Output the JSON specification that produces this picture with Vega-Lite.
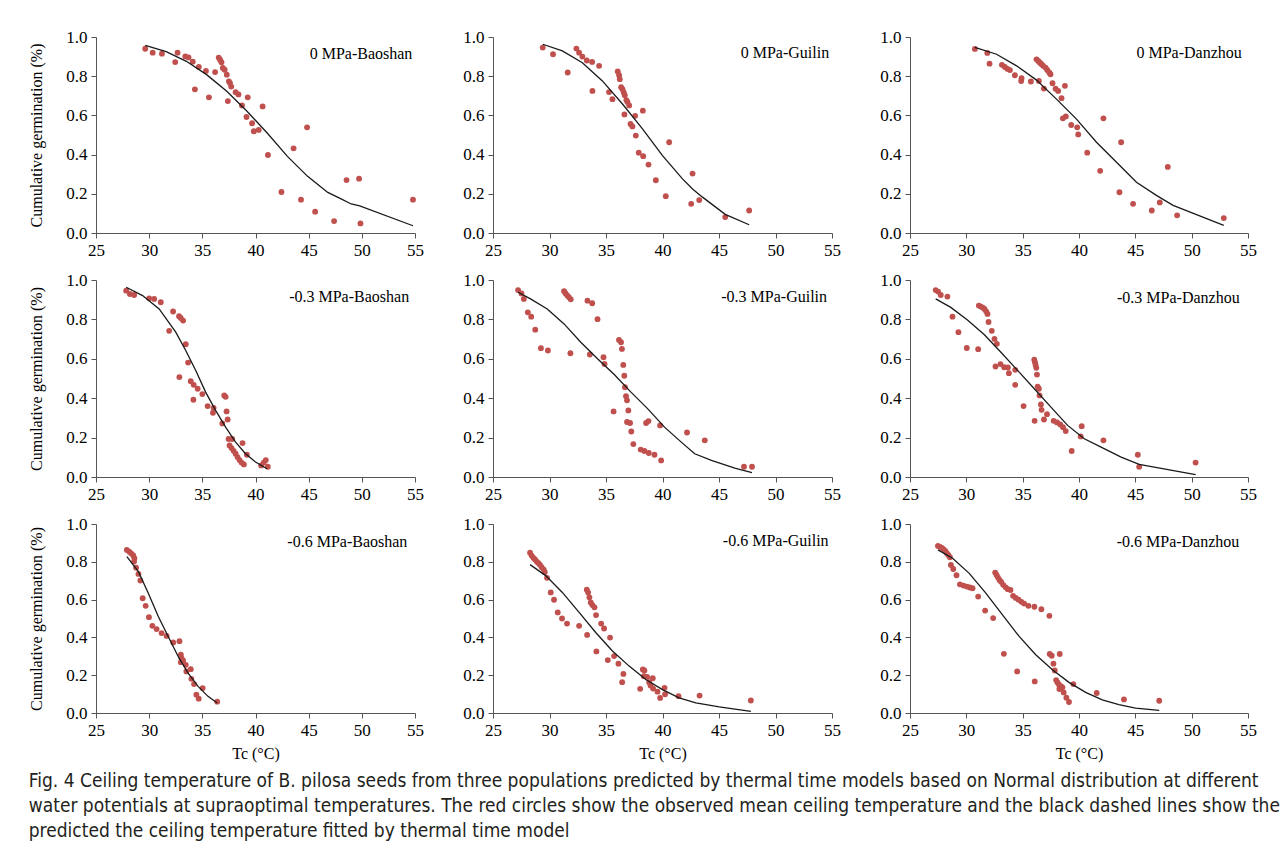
{
"$schema": "https://vega.github.io/schema/vega-lite/v6.json",
"padding": {"left": 28, "top": 28, "right": 5, "bottom": 5},
"background": "#ffffff",
"config": {
  "font": "Liberation Serif",
  "view": {"stroke": null},
  "axis": {"grid": false, "domainColor": "#555555", "domainWidth": 1, "tickColor": "#555555", "tickSize": 5, "labelFont": "Liberation Serif", "labelFontSize": 17, "labelColor": "#000000", "labelPadding": 4, "titleFont": "Liberation Serif", "titleFontSize": 16, "titleFontWeight": "normal", "titleColor": "#000000"},
  "axisX": {"values": [25, 30, 35, 40, 45, 50, 55], "labelFlush": false, "titlePadding": 7},
  "axisY": {"values": [0, 0.2, 0.4, 0.6, 0.8, 1.0], "format": ".1f", "titlePadding": 21},
  "text": {"font": "Liberation Serif", "fontSize": 16, "color": "#000000"}
},
"title": {"text": ["Fig. 4  Ceiling temperature of B. pilosa seeds from three populations predicted by thermal time models based on Normal distribution at different", "water potentials at supraoptimal temperatures. The red circles show the observed mean ceiling temperature and the black dashed lines show the", "predicted the ceiling temperature fitted by thermal time model"], "orient": "bottom", "anchor": "start", "frame": "bounds", "font": "DejaVu Sans Condensed, Liberation Sans Narrow, sans-serif", "fontSize": 19, "fontWeight": "normal", "lineHeight": 25, "offset": 11, "color": "#231f20"},
"datasets": {
"pts": [
{"p":"b0","t":29.63,"g":0.94},{"p":"b0","t":30.33,"g":0.92},{"p":"b0","t":31.2,"g":0.915},{"p":"b0","t":32.45,"g":0.872},{"p":"b0","t":32.67,"g":0.92},{"p":"b0","t":33.4,"g":0.901},{"p":"b0","t":33.7,"g":0.896},{"p":"b0","t":34.1,"g":0.874},{"p":"b0","t":34.3,"g":0.733},{"p":"b0","t":34.67,"g":0.847},{"p":"b0","t":35.34,"g":0.827},{"p":"b0","t":35.62,"g":0.692},{"p":"b0","t":36.2,"g":0.821},{"p":"b0","t":36.54,"g":0.895},{"p":"b0","t":36.67,"g":0.884},{"p":"b0","t":36.8,"g":0.871},{"p":"b0","t":36.93,"g":0.842},{"p":"b0","t":37.1,"g":0.833},{"p":"b0","t":37.3,"g":0.808},{"p":"b0","t":37.4,"g":0.673},{"p":"b0","t":37.5,"g":0.774},{"p":"b0","t":37.6,"g":0.765},{"p":"b0","t":37.72,"g":0.747},{"p":"b0","t":38.13,"g":0.718},{"p":"b0","t":38.4,"g":0.707},{"p":"b0","t":38.73,"g":0.651},{"p":"b0","t":39.27,"g":0.692},{"p":"b0","t":39.15,"g":0.592},{"p":"b0","t":39.68,"g":0.56},{"p":"b0","t":39.84,"g":0.519},{"p":"b0","t":40.3,"g":0.526},{"p":"b0","t":40.67,"g":0.646},{"p":"b0","t":41.17,"g":0.398},{"p":"b0","t":42.44,"g":0.209},{"p":"b0","t":43.58,"g":0.432},{"p":"b0","t":44.28,"g":0.17},{"p":"b0","t":44.85,"g":0.539},{"p":"b0","t":45.61,"g":0.109},{"p":"b0","t":47.39,"g":0.061},{"p":"b0","t":48.56,"g":0.27},{"p":"b0","t":49.74,"g":0.277},{"p":"b0","t":49.87,"g":0.049},{"p":"b0","t":54.81,"g":0.17},
{"p":"g0","t":29.4,"g":0.946},{"p":"g0","t":30.31,"g":0.912},{"p":"g0","t":31.61,"g":0.819},{"p":"g0","t":32.38,"g":0.941},{"p":"g0","t":32.62,"g":0.92},{"p":"g0","t":32.91,"g":0.9},{"p":"g0","t":33.3,"g":0.88},{"p":"g0","t":33.77,"g":0.873},{"p":"g0","t":33.8,"g":0.725},{"p":"g0","t":34.39,"g":0.853},{"p":"g0","t":35.27,"g":0.719},{"p":"g0","t":35.57,"g":0.683},{"p":"g0","t":36.04,"g":0.824},{"p":"g0","t":36.16,"g":0.805},{"p":"g0","t":36.22,"g":0.785},{"p":"g0","t":36.34,"g":0.744},{"p":"g0","t":36.46,"g":0.734},{"p":"g0","t":36.57,"g":0.717},{"p":"g0","t":36.66,"g":0.703},{"p":"g0","t":36.63,"g":0.605},{"p":"g0","t":36.8,"g":0.678},{"p":"g0","t":36.9,"g":0.669},{"p":"g0","t":37.05,"g":0.651},{"p":"g0","t":37.17,"g":0.556},{"p":"g0","t":37.34,"g":0.544},{"p":"g0","t":37.58,"g":0.598},{"p":"g0","t":37.64,"g":0.497},{"p":"g0","t":37.9,"g":0.41},{"p":"g0","t":38.26,"g":0.624},{"p":"g0","t":38.29,"g":0.392},{"p":"g0","t":38.76,"g":0.349},{"p":"g0","t":39.41,"g":0.269},{"p":"g0","t":40.29,"g":0.188},{"p":"g0","t":40.59,"g":0.463},{"p":"g0","t":42.54,"g":0.149},{"p":"g0","t":42.66,"g":0.303},{"p":"g0","t":43.25,"g":0.168},{"p":"g0","t":45.55,"g":0.081},{"p":"g0","t":47.67,"g":0.115},
{"p":"d0","t":30.76,"g":0.939},{"p":"d0","t":31.86,"g":0.919},{"p":"d0","t":32.06,"g":0.864},{"p":"d0","t":33.16,"g":0.858},{"p":"d0","t":33.42,"g":0.847},{"p":"d0","t":33.66,"g":0.837},{"p":"d0","t":33.87,"g":0.831},{"p":"d0","t":34.31,"g":0.805},{"p":"d0","t":34.9,"g":0.79},{"p":"d0","t":34.87,"g":0.775},{"p":"d0","t":35.73,"g":0.773},{"p":"d0","t":36.23,"g":0.886},{"p":"d0","t":36.38,"g":0.878},{"p":"d0","t":36.53,"g":0.869},{"p":"d0","t":36.68,"g":0.861},{"p":"d0","t":36.82,"g":0.853},{"p":"d0","t":37.03,"g":0.844},{"p":"d0","t":37.18,"g":0.832},{"p":"d0","t":37.36,"g":0.819},{"p":"d0","t":37.47,"g":0.81},{"p":"d0","t":36.44,"g":0.776},{"p":"d0","t":36.88,"g":0.737},{"p":"d0","t":37.65,"g":0.764},{"p":"d0","t":37.92,"g":0.736},{"p":"d0","t":38.15,"g":0.725},{"p":"d0","t":38.45,"g":0.688},{"p":"d0","t":38.57,"g":0.585},{"p":"d0","t":38.75,"g":0.751},{"p":"d0","t":38.83,"g":0.595},{"p":"d0","t":39.31,"g":0.551},{"p":"d0","t":39.84,"g":0.539},{"p":"d0","t":39.93,"g":0.503},{"p":"d0","t":40.73,"g":0.41},{"p":"d0","t":41.88,"g":0.317},{"p":"d0","t":42.17,"g":0.585},{"p":"d0","t":43.59,"g":0.208},{"p":"d0","t":43.74,"g":0.463},{"p":"d0","t":44.8,"g":0.149},{"p":"d0","t":46.46,"g":0.115},{"p":"d0","t":47.17,"g":0.156},{"p":"d0","t":47.88,"g":0.337},{"p":"d0","t":48.71,"g":0.09},{"p":"d0","t":52.85,"g":0.076},
{"p":"b3","t":27.84,"g":0.946},{"p":"b3","t":28.19,"g":0.929},{"p":"b3","t":28.59,"g":0.924},{"p":"b3","t":30.0,"g":0.907},{"p":"b3","t":30.47,"g":0.904},{"p":"b3","t":31.09,"g":0.887},{"p":"b3","t":32.25,"g":0.84},{"p":"b3","t":31.88,"g":0.742},{"p":"b3","t":32.81,"g":0.816},{"p":"b3","t":32.97,"g":0.807},{"p":"b3","t":33.19,"g":0.794},{"p":"b3","t":33.44,"g":0.674},{"p":"b3","t":32.84,"g":0.507},{"p":"b3","t":33.66,"g":0.581},{"p":"b3","t":33.91,"g":0.486},{"p":"b3","t":34.19,"g":0.468},{"p":"b3","t":34.16,"g":0.392},{"p":"b3","t":34.56,"g":0.448},{"p":"b3","t":35.0,"g":0.421},{"p":"b3","t":35.5,"g":0.36},{"p":"b3","t":36.06,"g":0.351},{"p":"b3","t":36.0,"g":0.326},{"p":"b3","t":36.88,"g":0.272},{"p":"b3","t":37.06,"g":0.414},{"p":"b3","t":37.19,"g":0.407},{"p":"b3","t":37.28,"g":0.333},{"p":"b3","t":37.38,"g":0.292},{"p":"b3","t":37.47,"g":0.193},{"p":"b3","t":37.81,"g":0.193},{"p":"b3","t":37.56,"g":0.16},{"p":"b3","t":37.75,"g":0.147},{"p":"b3","t":37.94,"g":0.133},{"p":"b3","t":38.13,"g":0.118},{"p":"b3","t":38.31,"g":0.101},{"p":"b3","t":38.5,"g":0.086},{"p":"b3","t":38.69,"g":0.073},{"p":"b3","t":38.91,"g":0.064},{"p":"b3","t":38.78,"g":0.172},{"p":"b3","t":39.19,"g":0.113},{"p":"b3","t":40.53,"g":0.059},{"p":"b3","t":40.78,"g":0.073},{"p":"b3","t":40.97,"g":0.086},{"p":"b3","t":41.16,"g":0.052},
{"p":"g3","t":27.22,"g":0.949},{"p":"g3","t":27.52,"g":0.932},{"p":"g3","t":27.73,"g":0.904},{"p":"g3","t":28.08,"g":0.836},{"p":"g3","t":28.38,"g":0.814},{"p":"g3","t":28.74,"g":0.748},{"p":"g3","t":29.24,"g":0.654},{"p":"g3","t":29.86,"g":0.642},{"p":"g3","t":31.29,"g":0.943},{"p":"g3","t":31.43,"g":0.932},{"p":"g3","t":31.58,"g":0.921},{"p":"g3","t":31.73,"g":0.912},{"p":"g3","t":31.88,"g":0.902},{"p":"g3","t":31.85,"g":0.628},{"p":"g3","t":33.36,"g":0.895},{"p":"g3","t":33.78,"g":0.882},{"p":"g3","t":33.57,"g":0.622},{"p":"g3","t":34.25,"g":0.801},{"p":"g3","t":34.78,"g":0.608},{"p":"g3","t":34.87,"g":0.574},{"p":"g3","t":35.67,"g":0.333},{"p":"g3","t":36.15,"g":0.696},{"p":"g3","t":36.33,"g":0.684},{"p":"g3","t":36.41,"g":0.65},{"p":"g3","t":36.53,"g":0.569},{"p":"g3","t":36.62,"g":0.514},{"p":"g3","t":36.68,"g":0.456},{"p":"g3","t":36.77,"g":0.41},{"p":"g3","t":36.86,"g":0.389},{"p":"g3","t":36.98,"g":0.338},{"p":"g3","t":36.86,"g":0.279},{"p":"g3","t":37.13,"g":0.274},{"p":"g3","t":37.24,"g":0.231},{"p":"g3","t":37.42,"g":0.167},{"p":"g3","t":38.07,"g":0.139},{"p":"g3","t":38.4,"g":0.132},{"p":"g3","t":38.79,"g":0.122},{"p":"g3","t":39.29,"g":0.113},{"p":"g3","t":39.88,"g":0.084},{"p":"g3","t":38.55,"g":0.274},{"p":"g3","t":38.76,"g":0.284},{"p":"g3","t":39.79,"g":0.262},{"p":"g3","t":42.17,"g":0.226},{"p":"g3","t":43.74,"g":0.186},{"p":"g3","t":47.21,"g":0.052},{"p":"g3","t":47.92,"g":0.052},
{"p":"d3","t":27.28,"g":0.949},{"p":"d3","t":27.49,"g":0.941},{"p":"d3","t":27.73,"g":0.924},{"p":"d3","t":28.32,"g":0.916},{"p":"d3","t":28.77,"g":0.814},{"p":"d3","t":29.3,"g":0.735},{"p":"d3","t":30.04,"g":0.655},{"p":"d3","t":31.05,"g":0.649},{"p":"d3","t":31.11,"g":0.87},{"p":"d3","t":31.29,"g":0.865},{"p":"d3","t":31.46,"g":0.86},{"p":"d3","t":31.61,"g":0.853},{"p":"d3","t":31.76,"g":0.841},{"p":"d3","t":31.88,"g":0.828},{"p":"d3","t":31.97,"g":0.787},{"p":"d3","t":32.26,"g":0.742},{"p":"d3","t":32.5,"g":0.701},{"p":"d3","t":32.71,"g":0.676},{"p":"d3","t":32.59,"g":0.561},{"p":"d3","t":33.03,"g":0.573},{"p":"d3","t":33.36,"g":0.557},{"p":"d3","t":33.69,"g":0.556},{"p":"d3","t":33.78,"g":0.527},{"p":"d3","t":34.34,"g":0.468},{"p":"d3","t":34.34,"g":0.544},{"p":"d3","t":35.08,"g":0.36},{"p":"d3","t":36.03,"g":0.595},{"p":"d3","t":36.09,"g":0.583},{"p":"d3","t":36.15,"g":0.569},{"p":"d3","t":36.21,"g":0.554},{"p":"d3","t":36.27,"g":0.52},{"p":"d3","t":36.33,"g":0.459},{"p":"d3","t":36.44,"g":0.448},{"p":"d3","t":36.5,"g":0.414},{"p":"d3","t":36.62,"g":0.368},{"p":"d3","t":36.68,"g":0.341},{"p":"d3","t":36.06,"g":0.285},{"p":"d3","t":36.89,"g":0.292},{"p":"d3","t":37.16,"g":0.319},{"p":"d3","t":37.75,"g":0.285},{"p":"d3","t":38.05,"g":0.277},{"p":"d3","t":38.34,"g":0.267},{"p":"d3","t":38.58,"g":0.253},{"p":"d3","t":38.82,"g":0.233},{"p":"d3","t":39.35,"g":0.132},{"p":"d3","t":40.15,"g":0.206},{"p":"d3","t":40.24,"g":0.258},{"p":"d3","t":42.17,"g":0.186},{"p":"d3","t":45.22,"g":0.113},{"p":"d3","t":45.34,"g":0.052},{"p":"d3","t":50.35,"g":0.073},
{"p":"b6","t":27.9,"g":0.863},{"p":"b6","t":28.12,"g":0.854},{"p":"b6","t":28.3,"g":0.845},{"p":"b6","t":28.49,"g":0.835},{"p":"b6","t":28.61,"g":0.819},{"p":"b6","t":28.58,"g":0.801},{"p":"b6","t":28.77,"g":0.769},{"p":"b6","t":28.99,"g":0.736},{"p":"b6","t":29.17,"g":0.701},{"p":"b6","t":29.39,"g":0.607},{"p":"b6","t":29.67,"g":0.567},{"p":"b6","t":29.98,"g":0.507},{"p":"b6","t":30.3,"g":0.461},{"p":"b6","t":30.7,"g":0.444},{"p":"b6","t":31.17,"g":0.423},{"p":"b6","t":31.64,"g":0.408},{"p":"b6","t":32.26,"g":0.373},{"p":"b6","t":32.85,"g":0.38},{"p":"b6","t":32.98,"g":0.308},{"p":"b6","t":33.04,"g":0.29},{"p":"b6","t":32.98,"g":0.269},{"p":"b6","t":33.19,"g":0.278},{"p":"b6","t":33.44,"g":0.255},{"p":"b6","t":33.5,"g":0.22},{"p":"b6","t":33.91,"g":0.232},{"p":"b6","t":33.97,"g":0.181},{"p":"b6","t":34.22,"g":0.153},{"p":"b6","t":34.44,"g":0.097},{"p":"b6","t":34.66,"g":0.076},{"p":"b6","t":35.03,"g":0.132},{"p":"b6","t":36.4,"g":0.06},
{"p":"g6","t":28.28,"g":0.848},{"p":"g6","t":28.42,"g":0.833},{"p":"g6","t":28.57,"g":0.821},{"p":"g6","t":28.72,"g":0.812},{"p":"g6","t":28.87,"g":0.801},{"p":"g6","t":29.02,"g":0.793},{"p":"g6","t":29.16,"g":0.784},{"p":"g6","t":29.31,"g":0.771},{"p":"g6","t":29.49,"g":0.759},{"p":"g6","t":29.58,"g":0.745},{"p":"g6","t":29.78,"g":0.715},{"p":"g6","t":30.11,"g":0.638},{"p":"g6","t":30.4,"g":0.599},{"p":"g6","t":30.73,"g":0.532},{"p":"g6","t":31.11,"g":0.5},{"p":"g6","t":31.55,"g":0.473},{"p":"g6","t":32.62,"g":0.461},{"p":"g6","t":33.33,"g":0.413},{"p":"g6","t":33.3,"g":0.652},{"p":"g6","t":33.42,"g":0.638},{"p":"g6","t":33.53,"g":0.612},{"p":"g6","t":33.65,"g":0.585},{"p":"g6","t":33.8,"g":0.571},{"p":"g6","t":33.98,"g":0.559},{"p":"g6","t":34.12,"g":0.518},{"p":"g6","t":34.15,"g":0.326},{"p":"g6","t":34.57,"g":0.473},{"p":"g6","t":34.83,"g":0.447},{"p":"g6","t":35.16,"g":0.28},{"p":"g6","t":35.36,"g":0.399},{"p":"g6","t":35.72,"g":0.301},{"p":"g6","t":36.1,"g":0.261},{"p":"g6","t":36.43,"g":0.163},{"p":"g6","t":36.54,"g":0.207},{"p":"g6","t":38.02,"g":0.128},{"p":"g6","t":38.26,"g":0.23},{"p":"g6","t":38.35,"g":0.195},{"p":"g6","t":38.4,"g":0.225},{"p":"g6","t":38.64,"g":0.191},{"p":"g6","t":38.82,"g":0.163},{"p":"g6","t":38.94,"g":0.145},{"p":"g6","t":39.14,"g":0.184},{"p":"g6","t":39.17,"g":0.129},{"p":"g6","t":39.56,"g":0.113},{"p":"g6","t":39.79,"g":0.08},{"p":"g6","t":40.18,"g":0.133},{"p":"g6","t":40.23,"g":0.099},{"p":"g6","t":41.42,"g":0.089},{"p":"g6","t":43.28,"g":0.092},{"p":"g6","t":47.82,"g":0.066},
{"p":"d6","t":27.48,"g":0.884},{"p":"d6","t":27.66,"g":0.879},{"p":"d6","t":27.83,"g":0.873},{"p":"d6","t":27.98,"g":0.866},{"p":"d6","t":28.13,"g":0.857},{"p":"d6","t":28.25,"g":0.847},{"p":"d6","t":28.4,"g":0.836},{"p":"d6","t":28.54,"g":0.824},{"p":"d6","t":28.63,"g":0.783},{"p":"d6","t":28.84,"g":0.762},{"p":"d6","t":29.13,"g":0.729},{"p":"d6","t":29.43,"g":0.681},{"p":"d6","t":29.75,"g":0.674},{"p":"d6","t":30.05,"g":0.669},{"p":"d6","t":30.31,"g":0.664},{"p":"d6","t":30.55,"g":0.66},{"p":"d6","t":31.05,"g":0.616},{"p":"d6","t":31.67,"g":0.542},{"p":"d6","t":32.38,"g":0.502},{"p":"d6","t":32.56,"g":0.743},{"p":"d6","t":32.68,"g":0.731},{"p":"d6","t":32.8,"g":0.718},{"p":"d6","t":32.94,"g":0.704},{"p":"d6","t":33.09,"g":0.694},{"p":"d6","t":33.27,"g":0.678},{"p":"d6","t":33.5,"g":0.665},{"p":"d6","t":33.68,"g":0.655},{"p":"d6","t":33.92,"g":0.651},{"p":"d6","t":33.33,"g":0.313},{"p":"d6","t":34.15,"g":0.62},{"p":"d6","t":34.39,"g":0.609},{"p":"d6","t":34.63,"g":0.599},{"p":"d6","t":34.89,"g":0.588},{"p":"d6","t":35.13,"g":0.579},{"p":"d6","t":35.51,"g":0.567},{"p":"d6","t":36.04,"g":0.562},{"p":"d6","t":36.66,"g":0.549},{"p":"d6","t":37.37,"g":0.514},{"p":"d6","t":34.51,"g":0.22},{"p":"d6","t":36.07,"g":0.167},{"p":"d6","t":37.4,"g":0.312},{"p":"d6","t":37.58,"g":0.303},{"p":"d6","t":38.29,"g":0.312},{"p":"d6","t":37.73,"g":0.261},{"p":"d6","t":37.85,"g":0.225},{"p":"d6","t":37.97,"g":0.174},{"p":"d6","t":38.09,"g":0.162},{"p":"d6","t":38.23,"g":0.15},{"p":"d6","t":38.26,"g":0.127},{"p":"d6","t":38.41,"g":0.141},{"p":"d6","t":38.53,"g":0.136},{"p":"d6","t":38.64,"g":0.109},{"p":"d6","t":38.88,"g":0.081},{"p":"d6","t":39.11,"g":0.058},{"p":"d6","t":39.5,"g":0.153},{"p":"d6","t":41.57,"g":0.106},{"p":"d6","t":43.99,"g":0.072},{"p":"d6","t":47.12,"g":0.065}
],
"fit": [
{"p":"b0","t":29.63,"g":0.957},{"p":"b0","t":31.6,"g":0.925},{"p":"b0","t":33.5,"g":0.876},{"p":"b0","t":35.4,"g":0.808},{"p":"b0","t":37.3,"g":0.723},{"p":"b0","t":39.2,"g":0.621},{"p":"b0","t":41.1,"g":0.51},{"p":"b0","t":43.0,"g":0.391},{"p":"b0","t":44.9,"g":0.289},{"p":"b0","t":46.8,"g":0.207},{"p":"b0","t":48.0,"g":0.175},{"p":"b0","t":49.0,"g":0.148},{"p":"b0","t":49.8,"g":0.138},{"p":"b0","t":54.81,"g":0.037},
{"p":"g0","t":29.4,"g":0.963},{"p":"g0","t":31.14,"g":0.929},{"p":"g0","t":32.91,"g":0.869},{"p":"g0","t":34.68,"g":0.776},{"p":"g0","t":36.46,"g":0.658},{"p":"g0","t":38.23,"g":0.531},{"p":"g0","t":40.0,"g":0.395},{"p":"g0","t":41.77,"g":0.276},{"p":"g0","t":42.66,"g":0.225},{"p":"g0","t":43.54,"g":0.183},{"p":"g0","t":45.55,"g":0.095},{"p":"g0","t":47.67,"g":0.042},
{"p":"d0","t":30.76,"g":0.947},{"p":"d0","t":32.68,"g":0.912},{"p":"d0","t":34.46,"g":0.853},{"p":"d0","t":36.23,"g":0.78},{"p":"d0","t":38.0,"g":0.683},{"p":"d0","t":39.78,"g":0.581},{"p":"d0","t":41.55,"g":0.463},{"p":"d0","t":43.33,"g":0.361},{"p":"d0","t":45.1,"g":0.259},{"p":"d0","t":46.87,"g":0.192},{"p":"d0","t":48.35,"g":0.141},{"p":"d0","t":52.85,"g":0.039},
{"p":"b3","t":27.84,"g":0.963},{"p":"b3","t":29.38,"g":0.921},{"p":"b3","t":30.94,"g":0.853},{"p":"b3","t":32.5,"g":0.735},{"p":"b3","t":33.44,"g":0.642},{"p":"b3","t":34.38,"g":0.541},{"p":"b3","t":35.31,"g":0.431},{"p":"b3","t":36.25,"g":0.338},{"p":"b3","t":37.19,"g":0.253},{"p":"b3","t":38.13,"g":0.177},{"p":"b3","t":39.06,"g":0.118},{"p":"b3","t":40.0,"g":0.076},{"p":"b3","t":41.09,"g":0.042},
{"p":"g3","t":27.22,"g":0.938},{"p":"g3","t":28.32,"g":0.904},{"p":"g3","t":29.8,"g":0.853},{"p":"g3","t":31.29,"g":0.777},{"p":"g3","t":32.77,"g":0.684},{"p":"g3","t":34.25,"g":0.6},{"p":"g3","t":35.73,"g":0.52},{"p":"g3","t":37.21,"g":0.431},{"p":"g3","t":38.7,"g":0.346},{"p":"g3","t":40.18,"g":0.253},{"p":"g3","t":41.66,"g":0.177},{"p":"g3","t":42.85,"g":0.118},{"p":"g3","t":44.33,"g":0.084},{"p":"g3","t":46.4,"g":0.045},{"p":"g3","t":47.92,"g":0.022},
{"p":"d3","t":27.28,"g":0.904},{"p":"d3","t":28.62,"g":0.861},{"p":"d3","t":30.1,"g":0.797},{"p":"d3","t":31.58,"g":0.723},{"p":"d3","t":33.07,"g":0.633},{"p":"d3","t":34.55,"g":0.541},{"p":"d3","t":36.03,"g":0.448},{"p":"d3","t":37.51,"g":0.355},{"p":"d3","t":38.99,"g":0.262},{"p":"d3","t":40.47,"g":0.194},{"p":"d3","t":41.96,"g":0.152},{"p":"d3","t":43.74,"g":0.101},{"p":"d3","t":45.34,"g":0.064},{"p":"d3","t":50.35,"g":0.012},
{"p":"b6","t":27.9,"g":0.827},{"p":"b6","t":28.99,"g":0.748},{"p":"b6","t":29.92,"g":0.634},{"p":"b6","t":30.86,"g":0.511},{"p":"b6","t":31.79,"g":0.405},{"p":"b6","t":32.73,"g":0.299},{"p":"b6","t":33.66,"g":0.211},{"p":"b6","t":34.6,"g":0.141},{"p":"b6","t":35.53,"g":0.088},{"p":"b6","t":36.4,"g":0.053},
{"p":"g6","t":28.28,"g":0.785},{"p":"g6","t":29.66,"g":0.727},{"p":"g6","t":31.14,"g":0.638},{"p":"g6","t":32.62,"g":0.532},{"p":"g6","t":34.09,"g":0.426},{"p":"g6","t":35.57,"g":0.328},{"p":"g6","t":37.05,"g":0.248},{"p":"g6","t":38.52,"g":0.177},{"p":"g6","t":40.0,"g":0.124},{"p":"g6","t":41.47,"g":0.08},{"p":"g6","t":42.95,"g":0.053},{"p":"g6","t":45.02,"g":0.032},{"p":"g6","t":47.82,"g":0.009},
{"p":"d6","t":27.48,"g":0.863},{"p":"d6","t":28.78,"g":0.819},{"p":"d6","t":30.26,"g":0.739},{"p":"d6","t":31.73,"g":0.634},{"p":"d6","t":33.21,"g":0.519},{"p":"d6","t":34.69,"g":0.405},{"p":"d6","t":36.16,"g":0.308},{"p":"d6","t":37.64,"g":0.229},{"p":"d6","t":39.11,"g":0.162},{"p":"d6","t":40.59,"g":0.109},{"p":"d6","t":42.07,"g":0.07},{"p":"d6","t":43.54,"g":0.044},{"p":"d6","t":45.02,"g":0.026},{"p":"d6","t":47.12,"g":0.014}
]
},
"columns": 3,
"align": "each",
"bounds": "flush",
"spacing": {"row": 47, "column": 78},
"concat": [
{"width": 319, "height": 196, "layer": [
 {"data": {"name": "pts"}, "transform": [{"filter": "datum.p == 'b0'"}], "mark": {"type": "circle", "color": "#C0504D", "opacity": 1, "size": 34}, "encoding": {"x": {"field": "t", "type": "quantitative", "scale": {"domain": [25, 55], "nice": false, "zero": false}, "axis": {"title": null}}, "y": {"field": "g", "type": "quantitative", "scale": {"domain": [0, 1], "nice": false}, "axis": {"title": "Cumulative germination (%)"}}}},
 {"data": {"name": "fit"}, "transform": [{"filter": "datum.p == 'b0'"}], "mark": {"type": "line", "color": "#1a1a1a", "strokeWidth": 1.3}, "encoding": {"x": {"field": "t", "type": "quantitative"}, "y": {"field": "g", "type": "quantitative"}}},
 {"data": {"values": [{}]}, "mark": {"type": "text", "align": "right", "baseline": "middle"}, "encoding": {"x": {"datum": 54.75}, "y": {"datum": 0.915}, "text": {"value": "0 MPa-Baoshan"}}}
]},
{"width": 339, "height": 196, "layer": [
 {"data": {"name": "pts"}, "transform": [{"filter": "datum.p == 'g0'"}], "mark": {"type": "circle", "color": "#C0504D", "opacity": 1, "size": 34}, "encoding": {"x": {"field": "t", "type": "quantitative", "scale": {"domain": [25, 55], "nice": false, "zero": false}, "axis": {"title": null}}, "y": {"field": "g", "type": "quantitative", "scale": {"domain": [0, 1], "nice": false}, "axis": {"title": null}}}},
 {"data": {"name": "fit"}, "transform": [{"filter": "datum.p == 'g0'"}], "mark": {"type": "line", "color": "#1a1a1a", "strokeWidth": 1.3}, "encoding": {"x": {"field": "t", "type": "quantitative"}, "y": {"field": "g", "type": "quantitative"}}},
 {"data": {"values": [{}]}, "mark": {"type": "text", "align": "right", "baseline": "middle"}, "encoding": {"x": {"datum": 54.75}, "y": {"datum": 0.92}, "text": {"value": "0 MPa-Guilin"}}}
]},
{"width": 338, "height": 196, "layer": [
 {"data": {"name": "pts"}, "transform": [{"filter": "datum.p == 'd0'"}], "mark": {"type": "circle", "color": "#C0504D", "opacity": 1, "size": 34}, "encoding": {"x": {"field": "t", "type": "quantitative", "scale": {"domain": [25, 55], "nice": false, "zero": false}, "axis": {"title": null}}, "y": {"field": "g", "type": "quantitative", "scale": {"domain": [0, 1], "nice": false}, "axis": {"title": null}}}},
 {"data": {"name": "fit"}, "transform": [{"filter": "datum.p == 'd0'"}], "mark": {"type": "line", "color": "#1a1a1a", "strokeWidth": 1.3}, "encoding": {"x": {"field": "t", "type": "quantitative"}, "y": {"field": "g", "type": "quantitative"}}},
 {"data": {"values": [{}]}, "mark": {"type": "text", "align": "right", "baseline": "middle"}, "encoding": {"x": {"datum": 54.45}, "y": {"datum": 0.917}, "text": {"value": "0 MPa-Danzhou"}}}
]},
{"width": 319, "height": 197, "layer": [
 {"data": {"name": "pts"}, "transform": [{"filter": "datum.p == 'b3'"}], "mark": {"type": "circle", "color": "#C0504D", "opacity": 1, "size": 34}, "encoding": {"x": {"field": "t", "type": "quantitative", "scale": {"domain": [25, 55], "nice": false, "zero": false}, "axis": {"title": null}}, "y": {"field": "g", "type": "quantitative", "scale": {"domain": [0, 1], "nice": false}, "axis": {"title": "Cumulative germination (%)"}}}},
 {"data": {"name": "fit"}, "transform": [{"filter": "datum.p == 'b3'"}], "mark": {"type": "line", "color": "#1a1a1a", "strokeWidth": 1.3}, "encoding": {"x": {"field": "t", "type": "quantitative"}, "y": {"field": "g", "type": "quantitative"}}},
 {"data": {"values": [{}]}, "mark": {"type": "text", "align": "right", "baseline": "middle"}, "encoding": {"x": {"datum": 54.45}, "y": {"datum": 0.912}, "text": {"value": "-0.3 MPa-Baoshan"}}}
]},
{"width": 339, "height": 197, "layer": [
 {"data": {"name": "pts"}, "transform": [{"filter": "datum.p == 'g3'"}], "mark": {"type": "circle", "color": "#C0504D", "opacity": 1, "size": 34}, "encoding": {"x": {"field": "t", "type": "quantitative", "scale": {"domain": [25, 55], "nice": false, "zero": false}, "axis": {"title": null}}, "y": {"field": "g", "type": "quantitative", "scale": {"domain": [0, 1], "nice": false}, "axis": {"title": null}}}},
 {"data": {"name": "fit"}, "transform": [{"filter": "datum.p == 'g3'"}], "mark": {"type": "line", "color": "#1a1a1a", "strokeWidth": 1.3}, "encoding": {"x": {"field": "t", "type": "quantitative"}, "y": {"field": "g", "type": "quantitative"}}},
 {"data": {"values": [{}]}, "mark": {"type": "text", "align": "right", "baseline": "middle"}, "encoding": {"x": {"datum": 54.56}, "y": {"datum": 0.912}, "text": {"value": "-0.3 MPa-Guilin"}}}
]},
{"width": 338, "height": 197, "layer": [
 {"data": {"name": "pts"}, "transform": [{"filter": "datum.p == 'd3'"}], "mark": {"type": "circle", "color": "#C0504D", "opacity": 1, "size": 34}, "encoding": {"x": {"field": "t", "type": "quantitative", "scale": {"domain": [25, 55], "nice": false, "zero": false}, "axis": {"title": null}}, "y": {"field": "g", "type": "quantitative", "scale": {"domain": [0, 1], "nice": false}, "axis": {"title": null}}}},
 {"data": {"name": "fit"}, "transform": [{"filter": "datum.p == 'd3'"}], "mark": {"type": "line", "color": "#1a1a1a", "strokeWidth": 1.3}, "encoding": {"x": {"field": "t", "type": "quantitative"}, "y": {"field": "g", "type": "quantitative"}}},
 {"data": {"values": [{}]}, "mark": {"type": "text", "align": "right", "baseline": "middle"}, "encoding": {"x": {"datum": 54.26}, "y": {"datum": 0.907}, "text": {"value": "-0.3 MPa-Danzhou"}}}
]},
{"width": 319, "height": 189, "layer": [
 {"data": {"name": "pts"}, "transform": [{"filter": "datum.p == 'b6'"}], "mark": {"type": "circle", "color": "#C0504D", "opacity": 1, "size": 34}, "encoding": {"x": {"field": "t", "type": "quantitative", "scale": {"domain": [25, 55], "nice": false, "zero": false}, "axis": {"title": "Tc (°C)"}}, "y": {"field": "g", "type": "quantitative", "scale": {"domain": [0, 1], "nice": false}, "axis": {"title": "Cumulative germination (%)"}}}},
 {"data": {"name": "fit"}, "transform": [{"filter": "datum.p == 'b6'"}], "mark": {"type": "line", "color": "#1a1a1a", "strokeWidth": 1.3}, "encoding": {"x": {"field": "t", "type": "quantitative"}, "y": {"field": "g", "type": "quantitative"}}},
 {"data": {"values": [{}]}, "mark": {"type": "text", "align": "right", "baseline": "middle"}, "encoding": {"x": {"datum": 54.28}, "y": {"datum": 0.903}, "text": {"value": "-0.6 MPa-Baoshan"}}}
]},
{"width": 339, "height": 189, "layer": [
 {"data": {"name": "pts"}, "transform": [{"filter": "datum.p == 'g6'"}], "mark": {"type": "circle", "color": "#C0504D", "opacity": 1, "size": 34}, "encoding": {"x": {"field": "t", "type": "quantitative", "scale": {"domain": [25, 55], "nice": false, "zero": false}, "axis": {"title": "Tc (°C)"}}, "y": {"field": "g", "type": "quantitative", "scale": {"domain": [0, 1], "nice": false}, "axis": {"title": null}}}},
 {"data": {"name": "fit"}, "transform": [{"filter": "datum.p == 'g6'"}], "mark": {"type": "line", "color": "#1a1a1a", "strokeWidth": 1.3}, "encoding": {"x": {"field": "t", "type": "quantitative"}, "y": {"field": "g", "type": "quantitative"}}},
 {"data": {"values": [{}]}, "mark": {"type": "text", "align": "right", "baseline": "middle"}, "encoding": {"x": {"datum": 54.7}, "y": {"datum": 0.91}, "text": {"value": "-0.6 MPa-Guilin"}}}
]},
{"width": 338, "height": 189, "layer": [
 {"data": {"name": "pts"}, "transform": [{"filter": "datum.p == 'd6'"}], "mark": {"type": "circle", "color": "#C0504D", "opacity": 1, "size": 34}, "encoding": {"x": {"field": "t", "type": "quantitative", "scale": {"domain": [25, 55], "nice": false, "zero": false}, "axis": {"title": "Tc (°C)"}}, "y": {"field": "g", "type": "quantitative", "scale": {"domain": [0, 1], "nice": false}, "axis": {"title": null}}}},
 {"data": {"name": "fit"}, "transform": [{"filter": "datum.p == 'd6'"}], "mark": {"type": "line", "color": "#1a1a1a", "strokeWidth": 1.3}, "encoding": {"x": {"field": "t", "type": "quantitative"}, "y": {"field": "g", "type": "quantitative"}}},
 {"data": {"values": [{}]}, "mark": {"type": "text", "align": "right", "baseline": "middle"}, "encoding": {"x": {"datum": 54.23}, "y": {"datum": 0.903}, "text": {"value": "-0.6 MPa-Danzhou"}}}
]}
]
}
